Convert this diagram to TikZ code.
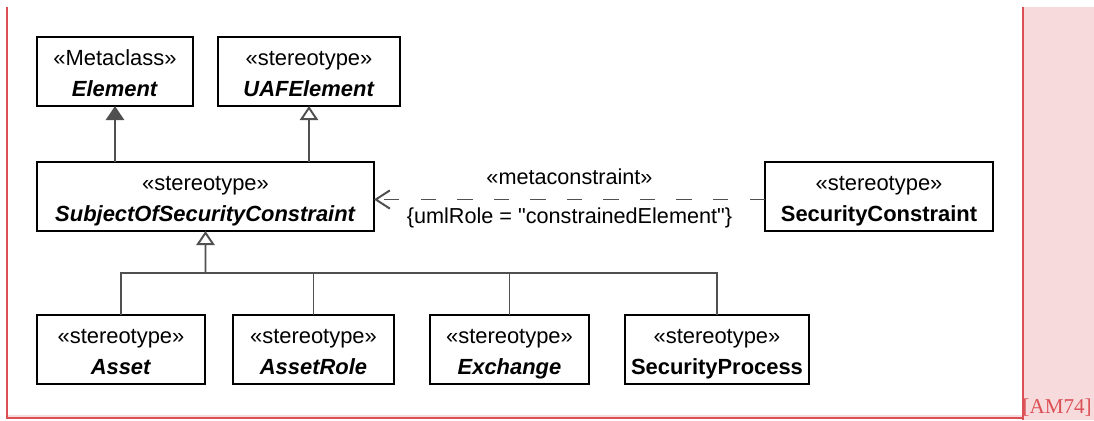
\documentclass[tikz,border=0pt]{standalone}
\usepackage{fontspec}
\setmainfont{Liberation Sans}
\newfontfamily\refserif{Liberation Serif}
\usetikzlibrary{arrows.meta, positioning, calc}

\definecolor{framered}{RGB}{220,80,85}
\definecolor{panelpink}{RGB}{246,218,220}
\definecolor{linegray}{RGB}{80,80,80}

\begin{document}
\begin{tikzpicture}[
    font=\fontsize{15.6}{22}\selectfont,
    box/.style={draw=black, line width=1pt, outer sep=0pt, minimum height=1.725cm, inner sep=2pt, text height=35pt, text depth=0pt, align=center},
    conn/.style={draw=linegray, line width=1.4pt},
    general/.style={conn, -{Triangle[open, length=10pt, width=13pt]}},
    extend/.style={conn, -{Triangle[fill=linegray, length=10pt, width=13pt]}},
    depend/.style={conn, dash pattern=on 11pt off 15pt, -{Straight Barb[length=10pt, width=13pt]}},
    connlabel/.style={font=\fontsize{15.4}{18}\selectfont, inner sep=5pt}
]

% 0. Frame
\useasboundingbox (0,0) rectangle (27.35,-10.5);
\fill[panelpink] (25.575,-0.175) rectangle (27.35,-10.5);
\fill[panelpink] (0.175,-10.375) rectangle (25.575,-10.45);
\draw[framered, line width=1pt] (0.175,-0.175) -- (0.175,-10.45) -- (25.575,-10.45);
\draw[framered, line width=1pt] (25.575,-0.175) -- (25.575,-10.5);
\node[anchor=base east, inner sep=0pt, text=framered, font=\refserif\fontsize{15}{18}\selectfont] (tag) at (27.3,-10.33) {[AM74]};

% 1. Top row
\node[box, minimum width=3.9cm, anchor=north west] (Element) at (0.925,-0.925) {
    «Metaclass»\\\textbf{\textit{Element}}
};
\node[box, minimum width=4.55cm, right=0.625cm of Element] (UAFElement) {
    «stereotype»\\\textbf{\textit{UAFElement}}
};

% 2. Middle row
\node[box, minimum width=8.425cm, below=1.4cm of Element.south west, anchor=north west] (Subject) {
    «stereotype»\\\textbf{\textit{SubjectOfSecurityConstraint}}
};
\node[box, minimum width=5.7cm, right=9.775cm of Subject] (SecConstraint) {
    «stereotype»\\\textbf{SecurityConstraint}
};

% 3. Bottom row
\node[box, minimum width=4.2cm, below=2.1cm of Subject.south west, anchor=north west] (Asset) {
    «stereotype»\\\textbf{\textit{Asset}}
};
\node[box, minimum width=4.025cm, right=0.7cm of Asset] (AssetRole) {
    «stereotype»\\\textbf{\textit{AssetRole}}
};
\node[box, minimum width=3.975cm, right=0.9cm of AssetRole] (Exchange) {
    «stereotype»\\\textbf{\textit{Exchange}}
};
\node[box, minimum width=4.6cm, right=0.9cm of Exchange] (SecProcess) {
    «stereotype»\\\textbf{SecurityProcess}
};

% Arrows
\draw[extend] (Subject.north -| Element.south) -- (Element.south);
\draw[general] (Subject.north -| UAFElement.south) -- (UAFElement.south);

\coordinate (bus) at ($(Subject.south)!0.5!(Asset.north -| Subject.south)$);
\draw[conn] (Asset.north) |- (bus);
\draw[conn] (AssetRole.north) |- (bus);
\draw[conn] (Exchange.north) |- (bus);
\draw[conn] (SecProcess.north) |- (bus);
\draw[general] (bus) -- (Subject.south);

\draw[depend] ([yshift=-0.075cm]SecConstraint.west) -- ([yshift=-0.075cm]Subject.east)
    node[connlabel, midway, above, yshift=5pt] (metaStereo) {«metaconstraint»}
    node[connlabel, midway, below] (roleTag) {\{umlRole = \textquotedbl constrainedElement\textquotedbl\}};

\end{tikzpicture}
\end{document}
